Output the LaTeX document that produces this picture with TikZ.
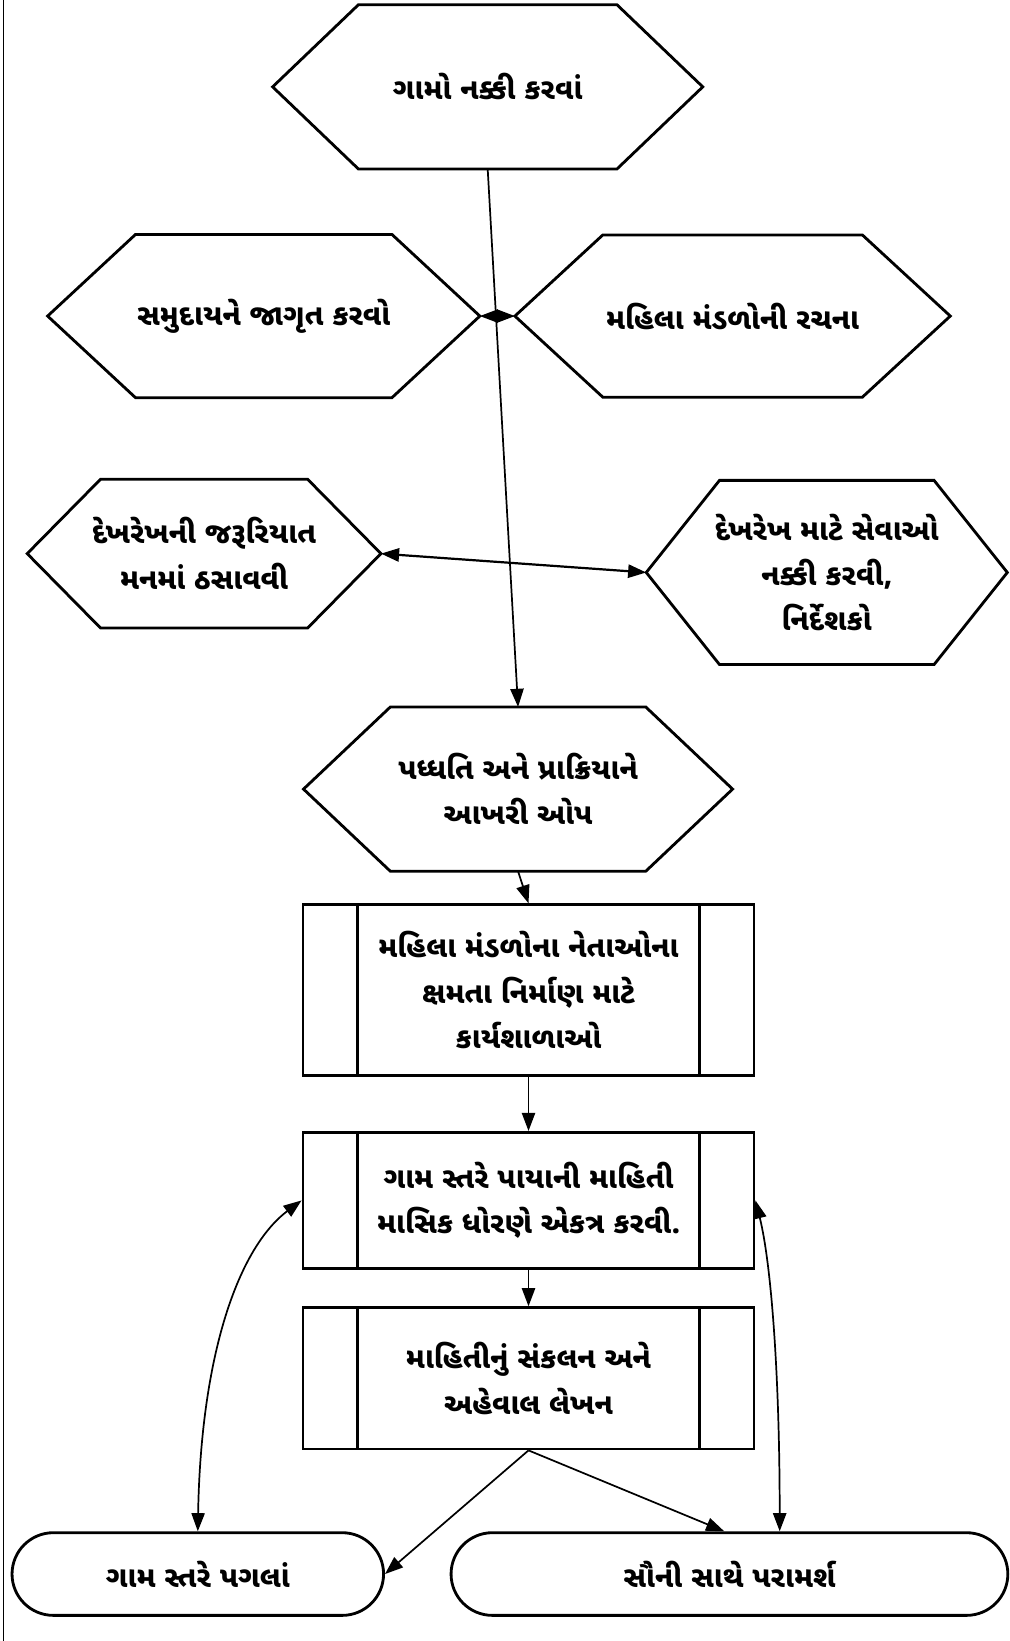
\documentclass[tikz,border=0pt]{standalone}
\usepackage{fontspec}
\newfontfamily\gujfont[Script=Gujarati]{Noto Sans Gujarati UI}
\usetikzlibrary{shapes.misc,arrows.meta}
\newcommand{\Unit}{0.03cm}
\tikzset{Hexagon/.style n args={3}{
    rectangle,
    minimum width=#1*\Unit,
    minimum height=#2*\Unit,
    inner sep=0pt,
    outer sep=0pt,
    align=center,
    append after command={% <= the six sided border
        \pgfextra{%
            \begin{pgfinterruptpath}
            \draw[line join=miter] (\tikzlastnode.west) -- ([xshift=#3*\Unit]\tikzlastnode.north west)
                -- ([xshift=-#3*\Unit]\tikzlastnode.north east) -- (\tikzlastnode.east)
                -- ([xshift=-#3*\Unit]\tikzlastnode.south east) -- ([xshift=#3*\Unit]\tikzlastnode.south west) -- cycle;
            \end{pgfinterruptpath}
        }
    },
    }
}
\tikzset{Process/.style={
    rectangle,
    minimum width=431*\Unit,
    minimum height=#1*\Unit,
    inner sep=0pt,
    draw=black,
    align=center,
    path picture={
      \draw ([xshift=52*\Unit]path picture bounding box.north west) -- ([xshift=52*\Unit]path picture bounding box.south west);
      \draw ([xshift=-52*\Unit]path picture bounding box.north east) -- ([xshift=-52*\Unit]path picture bounding box.south east);
    },
    }
}
\tikzset{Terminal/.style={
    rounded rectangle,
    minimum width=#1*\Unit,
    minimum height=79*\Unit,
    inner sep=0pt,
    draw=black,
    }
}

\begin{document}
\begin{tikzpicture}[x=\Unit, y=-\Unit, line width=2.3pt,
    font=\gujfont\bfseries\fontsize{24}{37}\selectfont,
    arr/.style={line width=1.4pt, -{Triangle[length=0.52cm, width=0.38cm]}},
    twoarr/.style={line width=1.4pt, {Triangle[length=0.52cm, width=0.38cm]}-{Triangle[length=0.52cm, width=0.38cm]}},
]
\useasboundingbox (0,0) rectangle (965,1568);
% page rule on the left
\draw[line width=1pt] (3,0) -- (3,1568);

% hexagons
\node [Hexagon={411}{157}{82}] (villages) at (466,83) {ગામો નક્કી કરવાં};
\node [Hexagon={413}{156}{84}] (aware) at (252,302) {સમુદાયને જાગૃત કરવો};
\node [Hexagon={416}{155}{84}] (groups) at (700,302) {મહિલા મંડળોની રચના};
\node [Hexagon={338}{142}{70}] (need) at (195,529) {દેખરેખની જરૂરિયાત\\મનમાં ઠસાવવી};
\node [Hexagon={345}{176}{70}] (services) at (790,547) {દેખરેખ માટે સેવાઓ\\નક્કી કરવી,\\નિર્દેશકો};
\node [Hexagon={410}{157}{83}] (method) at (495,754) {પધ્ધતિ અને પ્રાક્રિયાને\\આખરી ઓપ};

% process boxes
\node [Process=163] (workshop) at (505,946) {મહિલા મંડળોના નેતાઓના\\ક્ષમતા નિર્માણ માટે\\કાર્યશાળાઓ};
\node [Process=130] (collect) at (505,1147) {ગામ સ્તરે પાયાની માહિતી\\માસિક ધોરણે એકત્ર કરવી.};
\node [Process=135] (report) at (505,1317) {માહિતીનું સંકલન અને\\અહેવાલ લેખન};

% end points
\node [Terminal=355] (action) at (189,1504) {ગામ સ્તરે પગલાં};
\node [Terminal=532] (consult) at (697,1504) {સૌની સાથે પરામર્શ};

% connectors
\draw[arr] (villages.south) -- (method.north);
\draw[twoarr] (aware.east) -- (groups.west);
\draw[twoarr, line width=1.8pt] (need.east) -- (services.west);
\draw[arr] (method.south) -- (workshop.north);
\draw[arr] (workshop.south) -- (collect.north);
\draw[arr] (collect.south) -- (report.north);
\draw[arr] (report.south) -- (action.east);
\draw[arr] (report.south) -- ([xshift=-5*\Unit]consult.north);
\draw[twoarr] (action.north) .. controls +(3,-170) and +(-60,45) .. (collect.west);
\draw[twoarr] (collect.east) .. controls +(15,60) and +(0,-150) .. ([xshift=48*\Unit]consult.north);
\end{tikzpicture}
\end{document}
